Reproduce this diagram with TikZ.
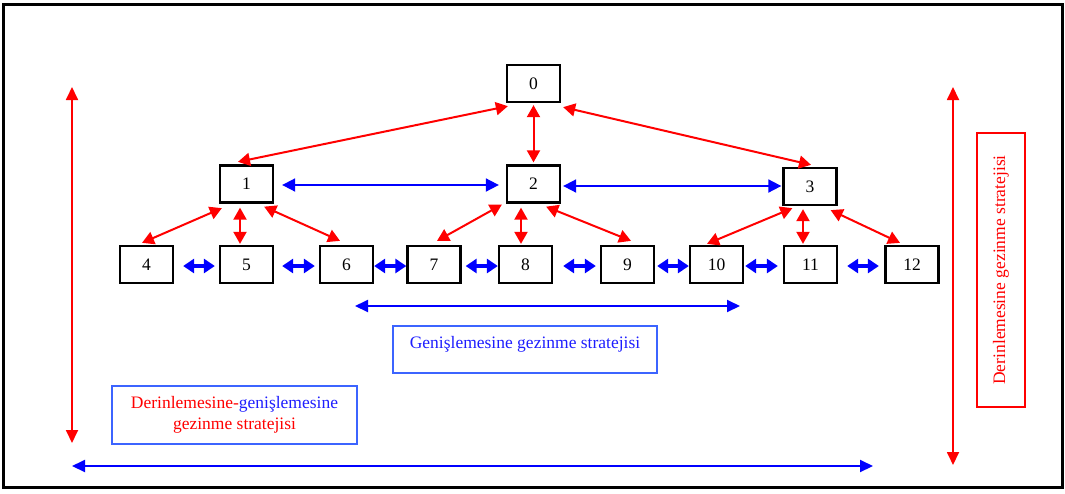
\documentclass[tikz,border=0pt]{standalone}
\usepackage{fontspec}
\setmainfont{Liberation Serif}
\usetikzlibrary{arrows.meta}
\definecolor{boxblue}{RGB}{60,100,255}
\definecolor{txtblue}{RGB}{30,30,255}
\begin{document}
\begin{tikzpicture}[x=1pt,y=-1pt,
  every node/.style={font=\fontsize{17.5}{20.4}\selectfont},
  numbox/.style={draw=black,line width=2.3pt,minimum width=53pt,minimum height=37pt,inner sep=0pt},
  redarr/.style={draw=red,line width=2pt,{Triangle[length=12pt,width=13pt]}-{Triangle[length=12pt,width=13pt]}},
  bluearr/.style={draw=blue,line width=1.8pt,{Triangle[length=13pt,width=13pt]}-{Triangle[length=13pt,width=13pt]}},
  bluethick/.style={draw=blue,line width=4pt,{Triangle[length=11pt,width=14pt]}-{Triangle[length=11pt,width=14pt]}},
  redline/.style={draw=red,line width=1.8pt,{Triangle[length=13pt,width=12pt]}-{Triangle[length=13pt,width=12pt]}},
  blueline/.style={draw=blue,line width=2pt,{Triangle[length=13pt,width=12pt]}-{Triangle[length=13pt,width=12pt]}}]
\useasboundingbox (0,0) rectangle (1065,493);
\draw[line width=3pt,black] (3,4) rectangle (1062,487);

\node[numbox] (n0) at (533.5,83.5) {0};
\node[numbox] (n1) at (246.5,184) {1};
\node[numbox] (n2) at (533.5,184) {2};
\node[numbox] (n3) at (810,186.5) {3};
\node[numbox] (n4) at (146.5,264.5) {4};
\node[numbox] (n5) at (246.5,264.5) {5};
\node[numbox] (n6) at (346.5,264.5) {6};
\node[numbox] (n7) at (434,264.5) {7};
\node[numbox] (n8) at (525.5,264.5) {8};
\node[numbox] (n9) at (627.5,264.5) {9};
\node[numbox] (n10) at (716.5,264.5) {10};
\node[numbox] (n11) at (810.5,264.5) {11};
\node[numbox] (n12) at (912,264.5) {12};

% red tree arrows
\draw[redarr] ([shift={(2,3)}]n0.south west) -- ([shift={(-8.5,-2.5)}]n1.north);
\draw[redarr] ([shift={(0,2)}]n0.south) -- ([shift={(0,-2)}]n2.north);
\draw[redarr] ([shift={(2,4)}]n0.south east) -- ([shift={(1,-2)}]n3.north);
\draw[redarr] ([shift={(3,4.5)}]n1.south west) -- ([shift={(-4.5,-2)}]n4.north);
\draw[redarr] ([shift={(-6.5,4)}]n1.south) -- ([shift={(-6.5,-1)}]n5.north);
\draw[redarr] ([shift={(-10,3)}]n1.south east) -- ([shift={(-6.5,-4)}]n6.north);
\draw[redarr] ([shift={(-4,1)}]n2.south west) -- ([shift={(3,-4)}]n7.north);
\draw[redarr] ([shift={(-12.5,4)}]n2.south) -- ([shift={(-4.5,-1)}]n8.north);
\draw[redarr] ([shift={(-15,3)}]n2.south east) -- ([shift={(3.5,-4)}]n9.north);
\draw[redarr] ([shift={(10,2)}]n3.south west) -- ([shift={(-9.5,-1)}]n10.north);
\draw[redarr] ([shift={(-7,3)}]n3.south) -- ([shift={(-7.5,-1)}]n11.north);
\draw[redarr] ([shift={(-7,4)}]n3.south east) -- ([shift={(-12,-2)}]n12.north);

% blue level arrows
\draw[bluearr] ([shift={(8,1)}]n1.east) -- ([shift={(-7,1)}]n2.west);
\draw[bluearr] ([shift={(2,2)}]n2.east) -- ([shift={(-1,-0.5)}]n3.west);

\draw[bluethick] ([shift={(9,1.5)}]n4.east) -- ([shift={(-4,1.5)}]n5.west);
\draw[bluethick] ([shift={(8,1.5)}]n5.east) -- ([shift={(-4,1.5)}]n6.west);
\draw[bluethick] ([shift={(0,1.5)}]n6.east) -- ([shift={(0,1.5)}]n7.west);
\draw[bluethick] ([shift={(4,1.5)}]n7.east) -- ([shift={(0,1.5)}]n8.west);
\draw[bluethick] ([shift={(10,1.5)}]n8.east) -- ([shift={(-4,1.5)}]n9.west);
\draw[bluethick] ([shift={(2,1.5)}]n9.east) -- ([shift={(0,1.5)}]n10.west);
\draw[bluethick] ([shift={(1,1.5)}]n10.east) -- ([shift={(-5,1.5)}]n11.west);
\draw[bluethick] ([shift={(9,1.5)}]n11.east) -- ([shift={(-5.5,1.5)}]n12.west);

% strategy labels
\node[draw=boxblue,line width=2pt,minimum width=264pt,minimum height=47pt,align=center,text=txtblue]
  (gen) at (525,349.5) {Genişlemesine gezinme stratejisi\\[-6pt]\mbox{}};
\node[draw=boxblue,line width=2pt,minimum width=245pt,minimum height=58pt,align=center,text=red]
  (dg) at (234.5,415) {Derinlemesine-\textcolor{txtblue}{genişlemesine}\\gezinme stratejisi};
\node[draw=red,line width=2pt,rotate=90,minimum width=274pt,minimum height=48pt,text=red]
  (der) at (1001,270) {Derinlemesine gezinme stratejisi};

% long strategy arrows
\coordinate (ga) at (355,306);
\coordinate (gb) at (740,306);
\draw[blueline] (ga) -- (gb);
\coordinate (la) at (72,87);
\coordinate (lb) at (72,443);
\draw[redline] (la) -- (lb);
\coordinate (ra) at (953,87);
\coordinate (rb) at (953,465);
\draw[redline] (ra) -- (rb);
\coordinate (ba) at (72,466);
\coordinate (bb) at (873,466);
\draw[blueline] (ba) -- (bb);
\end{tikzpicture}
\end{document}
